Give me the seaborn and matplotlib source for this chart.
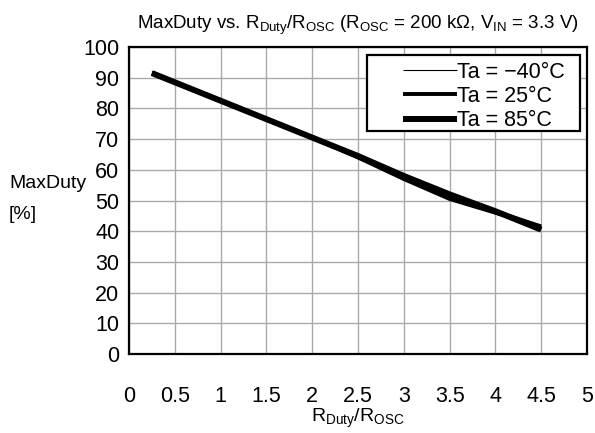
import numpy as np
import pandas as pd
import matplotlib
matplotlib.use("Agg")
import matplotlib.pyplot as plt
from matplotlib.patches import Rectangle
import seaborn as sns

# MaxDuty vs RDuty/ROSC
ratio = [0.25, 0.5, 1.0, 1.5, 2.0, 2.5, 3.0, 3.5, 4.0, 4.5]
duty_m40 = [92.0, 89.0, 83.0, 77.0, 71.0, 65.0, 58.5, 52.5, 47.0, 42.0]
duty_25 = [91.5, 88.5, 82.5, 76.5, 70.5, 64.0, 57.0, 50.5, 46.0, 41.5]
duty_85 = [91.5, 88.5, 82.5, 76.5, 70.5, 64.5, 58.0, 52.0, 46.5, 40.5]
temps = ["Ta = \u221240\u00b0C", "Ta = 25\u00b0C", "Ta = 85\u00b0C"]
widths = [0.8, 2.8, 4.3]

xticks = np.arange(0, 5.01, 0.5)
xtick_labels = ["0", "0.5", "1", "1.5", "2", "2.5", "3", "3.5", "4", "4.5", "5"]
yticks = np.arange(0, 101, 10)

df = pd.DataFrame({
    "ratio": ratio * 3,
    "duty": duty_m40 + duty_25 + duty_85,
    "temp": [temps[0]] * len(ratio) + [temps[1]] * len(ratio) + [temps[2]] * len(ratio),
})

sns.set_theme(style="white")
plt.rcParams["font.family"] = ["Liberation Sans", "DejaVu Sans"]
plt.rcParams["mathtext.fontset"] = "custom"
plt.rcParams["mathtext.rm"] = "Liberation Sans"
plt.rcParams["mathtext.it"] = "Liberation Sans"
plt.rcParams["text.color"] = "black"
plt.rcParams["axes.labelcolor"] = "black"
plt.rcParams["lines.solid_capstyle"] = "butt"

fig = plt.figure(figsize=(5.95, 4.33), dpi=100)
ax = fig.add_axes([0.2168, 0.1824, 0.7698, 0.7091])

for t, lw in zip(temps, widths):
    sns.lineplot(data=df[df["temp"] == t], x="ratio", y="duty", color="black",
                 linewidth=lw, label=t, ax=ax, solid_capstyle="butt")

ax.set_xlim(0, 5)
ax.set_ylim(0, 100)
ax.set_xticks(xticks)
ax.set_xticklabels(xtick_labels)
ax.set_yticks(yticks)
ax.grid(True, color="#aaaaaa", linewidth=1.0)
ax.tick_params(axis="x", length=0, pad=23, labelsize=15.5, colors="black")
ax.tick_params(axis="y", length=0, pad=7, labelsize=15.5, colors="black")
for s in ax.spines.values():
    s.set_color("black")
    s.set_linewidth(1.6)

ax.set_xlabel(r"R$_{\mathrm{Duty}}$/R$_{\mathrm{OSC}}$", fontsize=14, labelpad=0, color="black")
ax.set_ylabel("")
fig.text(0.015, 0.577, "MaxDuty", fontsize=14, ha="left", va="center", color="black")
fig.text(0.015, 0.505, "[%]", fontsize=14, ha="left", va="center", color="black")

ax.set_title(r"MaxDuty vs. R$_{\mathrm{Duty}}$/R$_{\mathrm{OSC}}$ (R$_{\mathrm{OSC}}$ = 200 k$\Omega$, V$_{\mathrm{IN}}$ = 3.3 V)",
             fontsize=13.5, pad=13, color="black")

leg = ax.legend(loc="upper left", bbox_to_anchor=(0.598, 0.952), fontsize=15.5,
                handlelength=2.5, handletextpad=0.0, labelspacing=0.15,
                borderpad=0, borderaxespad=0, frameon=False, labelcolor="black")
for h in leg.get_lines():
    h.set_solid_capstyle("butt")
ax.add_patch(Rectangle((0.520, 0.726), 0.465, 0.248, transform=ax.transAxes,
                       facecolor="white", edgecolor="black", linewidth=1.6, zorder=4))
leg.set_zorder(5)

fig.savefig("out.png", dpi=100)
